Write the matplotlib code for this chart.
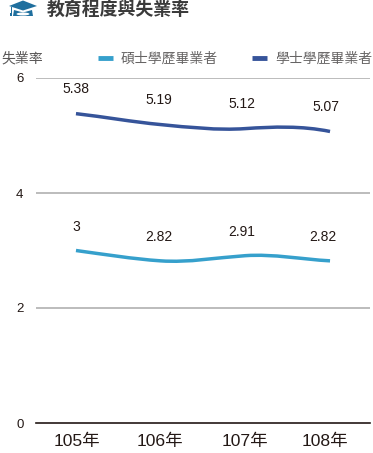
import matplotlib
matplotlib.use("Agg")
import matplotlib.pyplot as plt
from matplotlib.lines import Line2D
from matplotlib.patches import Ellipse, PathPatch, Polygon
from matplotlib.path import Path

plt.rcParams['font.family'] = ['Liberation Sans', 'Noto Sans CJK TC']

# data
years = ["105年", "106年", "107年", "108年"]
master = [3, 2.82, 2.91, 2.82]
bachelor = [5.38, 5.19, 5.12, 5.07]
master_label = "碩士學歷畢業者"
bachelor_label = "學士學歷畢業者"
y_ticks = [0, 2, 4, 6]

# slope of the smoothed curve at each year
master_slopes = [-0.2, -0.1, 0.1, -0.08]
bachelor_slopes = [-0.17, -0.14, 0.1, -0.3]

W, H = 373, 453
fig = plt.figure(figsize=(W / 100, H / 100), dpi=100)
ax = fig.add_axes([36 / W, 1 - 423 / H, 334 / W, 345 / H])
ax.set_xlim(-0.472, 3.472)
ax.set_ylim(0, 6)


def smooth_path(values, slopes):
    verts = [(0, values[0])]
    codes = [Path.MOVETO]
    for i in range(len(values) - 1):
        verts += [(i + 1 / 3, values[i] + slopes[i] / 3),
                  (i + 2 / 3, values[i + 1] - slopes[i + 1] / 3),
                  (i + 1, values[i + 1])]
        codes += [Path.CURVE4] * 3
    return Path(verts, codes)


ax.add_patch(PathPatch(smooth_path(master, master_slopes), fc="none", ec="#36a0cc", lw=2.5, capstyle="butt"))
ax.add_patch(PathPatch(smooth_path(bachelor, bachelor_slopes), fc="none", ec="#36549a", lw=2.5, capstyle="butt"))

# data labels
for i, v in enumerate(bachelor):
    ax.annotate(str(v), (i, v), xytext=([0, -1.5, -2.5, -3][i], 17.5), textcoords="offset points",
                ha="center", va="center", fontsize=10, color="#231815")
for i, v in enumerate(master):
    ax.annotate(str(v), (i, v), xytext=([0, -1.5, -2.5, -5][i], 17), textcoords="offset points",
                ha="center", va="center", fontsize=10, color="#231815")

ax.set_yticks(y_ticks)
ax.set_xticks(range(4))
ax.set_xticklabels([])
ax.tick_params(axis="x", length=0)
ax.tick_params(axis="y", length=0, pad=9, labelsize=9.5, labelcolor="#231815")
for i, label in enumerate(years):
    ax.annotate(label, (i, 0), xytext=([0.5, -0.5, 0, -3.5][i], -13), textcoords="offset points",
                ha="center", va="center", fontsize=12.6, color="#231815")
ax.grid(axis="y", color="#a9a9a9", lw=1.1)
ax.set_axisbelow(True)
for s in ["top", "right", "left"]:
    ax.spines[s].set_visible(False)
ax.spines["bottom"].set_color("#231815")
ax.spines["bottom"].set_linewidth(1.2)
ax.get_ygridlines()[0].set_visible(False)

# header
fig.text(47 / W, 1 - 11 / H, "教育程度與失業率", fontsize=12.9, fontweight="bold", color="#3a3a3a", va="center")
fig.text(1 / W, 1 - 59 / H, "失業率", fontsize=10, color="#595757", va="center")

# legend
handles = [Line2D([], [], color="#36a0cc", lw=3.5, solid_capstyle="butt"),
           Line2D([], [], color="#36549a", lw=3.5, solid_capstyle="butt")]
fig.legend(handles, [master_label, bachelor_label], ncol=2, frameon=False, fontsize=10,
           labelcolor="#666464", loc="center left", bbox_to_anchor=(98 / W, 1 - 59 / H),
           borderpad=0, borderaxespad=0, handlelength=1.1, handletextpad=0.55, columnspacing=2.45)

# graduation cap
icon = fig.add_axes([0, 1 - 24 / H, 50 / W, 24 / H])
icon.set_xlim(0, 50)
icon.set_ylim(24, 0)
icon.axis("off")
cap = "#1f6f9e"
icon.add_patch(Polygon([(9, 6), (23, 0.5), (37, 6), (23, 10.5)], fc=cap, ec="none"))
icon.add_patch(Polygon([(14, 10), (23, 12.5), (32, 10), (33, 16), (13, 16)], fc=cap, ec="none"))
icon.add_patch(Ellipse((23, 14), 13, 3, fc="white", ec="none"))
icon.add_patch(Polygon([(10.5, 7), (11.5, 7), (11.5, 13), (10.5, 13)], fc=cap, ec="none"))
icon.add_patch(Polygon([(9.8, 13), (12.2, 13), (12.2, 16), (9.8, 16)], fc=cap, ec="none"))

fig.savefig("out.png", dpi=100)
